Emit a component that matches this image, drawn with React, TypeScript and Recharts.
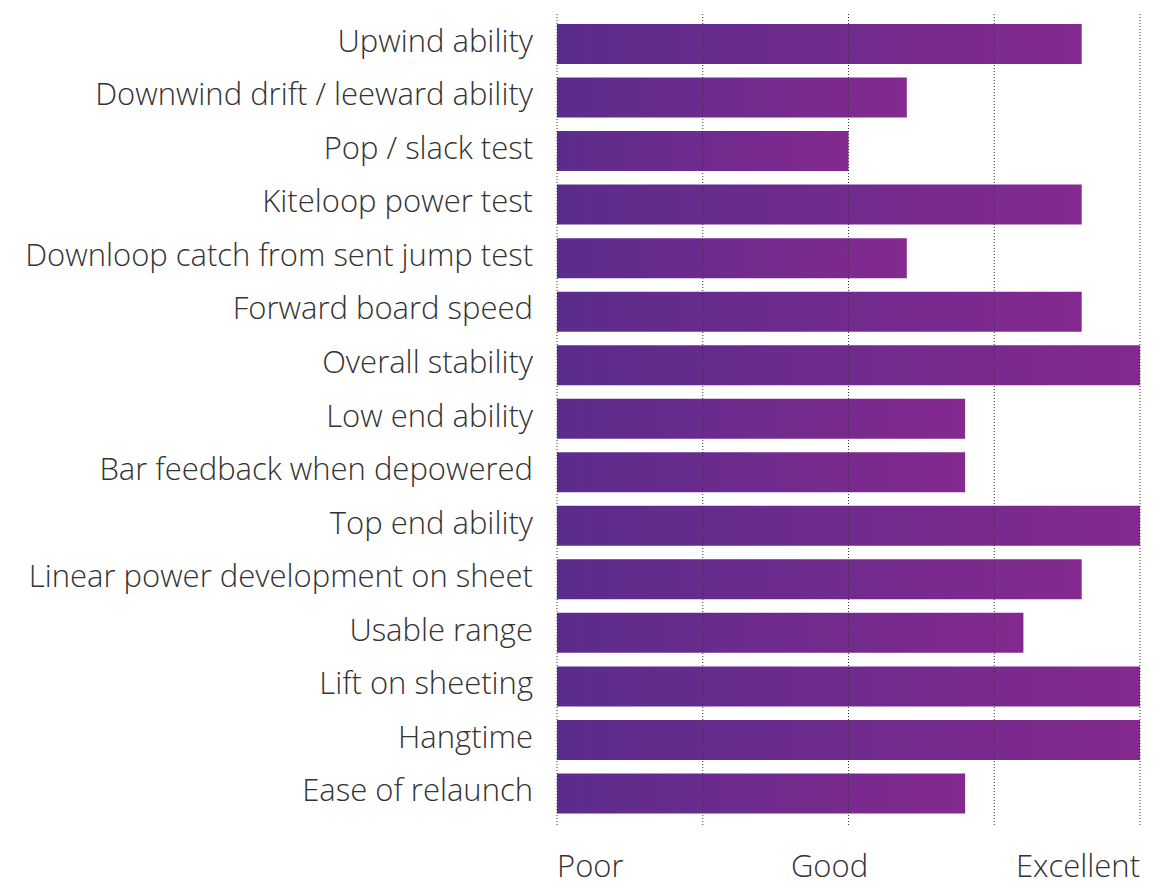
import React from "react";
import { BarChart, Bar, XAxis, YAxis, ReferenceLine } from "recharts";

const categories = [
  "Upwind ability",
  "Downwind drift / leeward ability",
  "Pop / slack test",
  "Kiteloop power test",
  "Downloop catch from sent jump test",
  "Forward board speed",
  "Overall stability",
  "Low end ability",
  "Bar feedback when depowered",
  "Top end ability",
  "Linear power development on sheet",
  "Usable range",
  "Lift on sheeting",
  "Hangtime",
  "Ease of relaunch",
];
const scores = [9, 6, 5, 9, 6, 9, 10, 7, 7, 10, 9, 8, 10, 10, 7];
const tickValues = [0, 5, 10];
const tickLabels = ["Poor", "Good", "Excellent"];
const gridValues = [0, 2.5, 5, 7.5, 10];

const data = categories.map((name, i) => ({ name, score: scores[i] }));

const FONT = "'Open Sans', sans-serif";
const FS = 31;

const XTick = (props: any) => {
  const { x, y, payload } = props;
  const idx = tickValues.indexOf(payload.value);
  const anchor = idx === 0 ? "start" : idx === 2 ? "end" : "middle";
  const dx = idx === 1 ? -19 : 0;
  return (
    <text x={x + dx} y={y} textAnchor={anchor} dominantBaseline="central" fill="#333" fontSize={FS} fontWeight={300} fontFamily={FONT}>
      {tickLabels[idx]}
    </text>
  );
};

const YTick = (props: any) => {
  const { x, y, payload } = props;
  return (
    <text x={x} y={y - 4} textAnchor="end" dominantBaseline="central" fill="#333" fontSize={FS} fontWeight={300} fontFamily={FONT}>
      {payload.value}
    </text>
  );
};

export default function App() {
  return (
    <div style={{ position: "absolute", left: 0, top: 0, width: 1164, height: 885, background: "#fff" }}>
      <BarChart
        width={1164}
        height={885}
        data={data}
        layout="vertical"
        margin={{ top: 12, right: 24, bottom: 0, left: 0 }}
      >
        <defs>
          <linearGradient id="barGrad" x1="0" y1="0" x2="1" y2="0">
            <stop offset="0%" stopColor="#5b2c8c" />
            <stop offset="100%" stopColor="#84298f" />
          </linearGradient>
        </defs>
        {gridValues.map((v) => (
          <ReferenceLine key={v} x={v} stroke="#333" strokeDasharray="1 2" ifOverflow="visible" />
        ))}
        <XAxis
          type="number"
          domain={[0, 10]}
          ticks={tickValues}
          axisLine={false}
          tickLine={false}
          tickSize={0}
          tickMargin={40}
          height={60}
          tick={<XTick />}
          interval={0}
        />
        <YAxis
          type="category"
          dataKey="name"
          width={557}
          axisLine={false}
          tickLine={false}
          tickSize={0}
          tickMargin={24}
          interval={0}
          padding={{ top: 5, bottom: 5 }}
          tick={<YTick />}
        />
        <Bar dataKey="score" fill="url(#barGrad)" barSize={40} isAnimationActive={false} />
      </BarChart>
    </div>
  );
}
